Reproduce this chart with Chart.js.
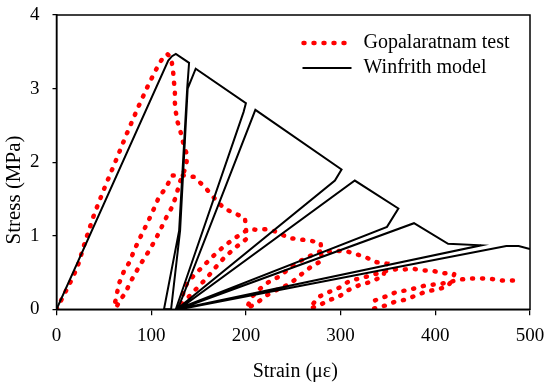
<!DOCTYPE html>
<html>
<head>
<meta charset="utf-8">
<script src="https://cdn.jsdelivr.net/npm/chart.js@4/dist/chart.umd.min.js"></script>
<style>
  html, body { margin: 0; padding: 0; background: #fff; }
  canvas { display: block; }
</style>
</head>
<body>
<canvas id="chart" width="545" height="383"></canvas>
<script>
// Axis tick values
const strainTicks = [0, 100, 200, 300, 400, 500];
const stressTicks = [0, 1, 2, 3, 4];

// Gopalaratnam cyclic tension test: strain (με) and stress (MPa), in path order
const testStrain = [
  0, 6, 14, 22, 31, 40, 51, 62, 74, 86, 97, 108, 113, 117, 121,
  123, 124, 125, 125, 126, 128, 131, 134, 138, 137,
  130, 126, 122, 116, 110, 105, 98, 91, 85, 78, 73, 66, 63,
  62, 66, 71, 77, 82, 87, 92, 98, 103, 108, 116, 122, 134, 145,
  156, 166, 177, 189, 199,
  201, 189, 177, 168, 159, 150, 141, 134, 131,
  133, 135, 145, 156, 166, 178, 191, 203, 212, 223, 233, 245, 257, 269, 279,
  280, 268, 257, 247, 235, 222, 213, 201,
  205, 214, 224, 236, 247, 258, 270, 281, 291, 303, 314, 326, 338, 349,
  345, 331, 320, 308, 298, 287, 277, 268,
  270, 277, 287, 298, 310, 321, 334, 348, 361,
  366, 377, 387, 398, 410, 420,
  418, 413, 402, 390, 378, 368, 357, 347, 335,
  336, 349, 358, 370, 380, 391, 403, 415, 424,
  436, 449, 461, 471, 483
];
const testStress = [
  0, 0.15, 0.35, 0.57, 0.95, 1.30, 1.66, 2.00, 2.38, 2.74, 3.05, 3.33, 3.43, 3.47, 3.42,
  3.25, 3.10, 2.95, 2.81, 2.68, 2.54, 2.41, 2.25, 2.09, 1.95,
  1.72, 1.53, 1.39, 1.25, 1.09, 0.96, 0.80, 0.66, 0.53, 0.37, 0.23, 0.10, 0.02,
  0.10, 0.35, 0.51, 0.64, 0.80, 0.94, 1.07, 1.23, 1.37, 1.52, 1.66, 1.82, 1.82, 1.80,
  1.67, 1.52, 1.37, 1.30, 1.24,
  0.96, 0.84, 0.70, 0.57, 0.43, 0.31, 0.19, 0.08, 0.01,
  0.17, 0.30, 0.46, 0.60, 0.73, 0.87, 0.99, 1.09, 1.08, 1.09, 1.05, 0.97, 0.95, 0.93, 0.90,
  0.66, 0.57, 0.46, 0.35, 0.28, 0.19, 0.10, 0.01,
  0.15, 0.27, 0.37, 0.45, 0.57, 0.66, 0.74, 0.80, 0.78, 0.80, 0.76, 0.71, 0.64, 0.62,
  0.45, 0.37, 0.33, 0.26, 0.17, 0.12, 0.05, 0.01,
  0.06, 0.17, 0.23, 0.29, 0.39, 0.42, 0.47, 0.52, 0.55,
  0.54, 0.55, 0.53, 0.52, 0.49, 0.48,
  0.40, 0.31, 0.27, 0.24, 0.18, 0.13, 0.10, 0.05, 0.01,
  0.12, 0.18, 0.23, 0.26, 0.29, 0.33, 0.34, 0.37, 0.40,
  0.42, 0.42, 0.41, 0.39, 0.39
];

// Winfrith concrete model response: strain (με) and stress (MPa), in path order
const modelStrain = [
  0, 118, 122, 126, 140,
  138, 129.5, 113.5,
  121, 130.5, 138.5, 147,
  200, 197.5, 126,
  128, 210, 301, 294, 127,
  129, 315, 361, 349, 127,
  129, 377.5, 413.5, 448.5, 128,
  130, 475, 488, 500
];
const modelStress = [
  0, 3.38, 3.44, 3.47, 3.35,
  3.0, 1.07, 0,
  0, 1.07, 3.0, 3.27,
  2.80, 2.68, 0,
  0, 2.71, 1.90, 1.75, 0,
  0, 1.75, 1.37, 1.12, 0,
  0, 1.17, 0.89, 0.87, 0,
  0, 0.86, 0.86, 0.82
];

const toPoints = (xs, ys) => xs.map((x, i) => ({ x, y: ys[i] }));

const SERIF = '"Liberation Serif", "Times New Roman", serif';

// Box around the plot area, legend inside it and the two axis titles
const framePlugin = {
  id: 'frame',
  afterDraw(chart) {
    const { ctx, chartArea: a } = chart;
    ctx.save();
    ctx.strokeStyle = '#000';
    ctx.lineWidth = 1.5;
    ctx.strokeRect(a.left, a.top, a.right - a.left, a.bottom - a.top);

    // legend
    chart.data.datasets.forEach((ds, i) => {
      const y = a.top + 28 + i * 25;
      const x0 = a.left + 246;
      ctx.save();
      ctx.strokeStyle = ds.borderColor;
      ctx.lineWidth = ds.borderWidth;
      ctx.setLineDash(ds.borderDash || []);
      ctx.lineCap = ds.borderCapStyle || 'butt';
      ctx.beginPath();
      ctx.moveTo(x0 + (ds.borderDash ? 1 : 0), y);
      ctx.lineTo(x0 + 49, y);
      ctx.stroke();
      ctx.restore();
      ctx.fillStyle = '#000';
      ctx.font = '20px ' + SERIF;
      ctx.textBaseline = 'middle';
      ctx.textAlign = 'left';
      ctx.fillText(ds.label, x0 + 61, y);
    });

    // axis titles
    ctx.fillStyle = '#000';
    ctx.font = '20px ' + SERIF;
    ctx.textAlign = 'center';
    ctx.textBaseline = 'middle';
    ctx.fillText('Strain (\u03BC\u03B5)', (a.left + a.right) / 2 + 2, 372);
    ctx.save();
    ctx.translate(14, 190);
    ctx.rotate(-Math.PI / 2);
    ctx.font = '21px ' + SERIF;
    ctx.fillText('Stress (MPa)', 0, 0);
    ctx.restore();
    ctx.restore();
  }
};

new Chart(document.getElementById('chart'), {
  type: 'scatter',
  data: {
    datasets: [
      {
        label: 'Gopalaratnam test',
        data: toPoints(testStrain, testStress),
        showLine: true,
        borderColor: '#ff0000',
        borderWidth: 4.5,
        borderDash: [1, 9],
        borderCapStyle: 'round',
        pointRadius: 0,
        tension: 0,
        order: 2
      },
      {
        label: 'Winfrith model',
        data: toPoints(modelStrain, modelStress),
        showLine: true,
        borderColor: '#000000',
        borderWidth: 2,
        borderJoinStyle: 'miter',
        pointRadius: 0,
        tension: 0,
        order: 1
      }
    ]
  },
  options: {
    responsive: false,
    animation: false,
    devicePixelRatio: 1,
    layout: { padding: { top: 15, right: 15, left: 0, bottom: 0 } },
    plugins: { legend: { display: false }, tooltip: { enabled: false } },
    scales: {
      x: {
        type: 'linear',
        min: 0,
        max: 500,
        afterBuildTicks: s => { s.ticks = strainTicks.map(v => ({ value: v })); },
        afterFit: s => { s.height = 73.7; s.paddingLeft = 0; s.paddingRight = 0; },
        grid: { display: true, drawOnChartArea: false, drawTicks: true, tickLength: 6, color: '#000', lineWidth: 1.25 },
        border: { display: true, color: '#000', width: 1.5 },
        ticks: { color: '#000', padding: 9, maxRotation: 0, font: { family: SERIF, size: 19 } }
      },
      y: {
        type: 'linear',
        min: 0,
        max: 4,
        afterBuildTicks: s => { s.ticks = stressTicks.map(v => ({ value: v })); },
        afterFit: s => { s.width = 56.5; s.paddingTop = 0; s.paddingBottom = 0; },
        grid: { display: true, drawOnChartArea: false, drawTicks: true, tickLength: 4, color: '#000', lineWidth: 1.25 },
        border: { display: true, color: '#000', width: 1.5 },
        ticks: { color: '#000', padding: 13, font: { family: SERIF, size: 19 } }
      }
    }
  },
  plugins: [framePlugin]
});
</script>
</body>
</html>
